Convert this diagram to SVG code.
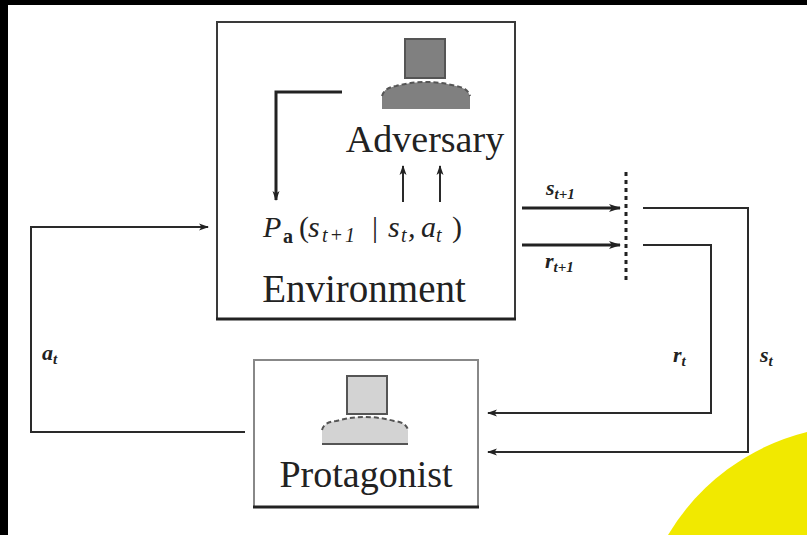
<svg xmlns="http://www.w3.org/2000/svg" width="807" height="535" viewBox="0 0 807 535">
  <defs>
    <marker id="arrow" viewBox="0 0 10 10" refX="9" refY="5" markerWidth="10" markerHeight="10" markerUnits="userSpaceOnUse" orient="auto">
      <path d="M0 1.5 L10 5 L0 8.5 L2.5 5 Z" fill="#222"/>
    </marker>
    <marker id="arrowBig" viewBox="0 0 12 10" refX="11" refY="5" markerWidth="12" markerHeight="10" markerUnits="userSpaceOnUse" orient="auto">
      <path d="M0 1 L12 5 L0 9 L3 5 Z" fill="#222"/>
    </marker>
  </defs>
  <style>
    .frame { fill: #fff; stroke: #3a3a3a; stroke-width: 2; }
    .line { fill: none; stroke: #2a2a2a; stroke-width: 2; }
    .thick { fill: none; stroke: #222; stroke-width: 3; }
  </style>

  <!-- page background with dark edges -->
  <rect x="0" y="0" width="807" height="535" fill="#fff"/>
  <rect x="0" y="0" width="807" height="5" fill="#000"/>
  <rect x="0" y="0" width="8" height="535" fill="#000"/>
  <path d="M668 535 A 225 225 0 0 1 807 432 L807 535 Z" fill="#f1e900"/>

  <!-- Environment -->
  <g id="environment">
    <rect class="frame" x="217" y="22" width="298" height="297"/>
    <line x1="216" y1="319" x2="516" y2="319" stroke="#222" stroke-width="3"/>
    <text style="font-family: 'Liberation Serif', serif; fill: #222" x="364" y="302" font-size="39" text-anchor="middle">Environment</text>
    <text style="font-family: 'Liberation Serif', serif; font-style: italic; fill: #222" y="237" font-size="30"><tspan x="263">P</tspan><tspan x="283" dy="6" style="font-style: normal; font-weight: bold" font-size="20">a</tspan><tspan x="299" dy="-6" style="font-style: normal">(</tspan><tspan x="308">s</tspan><tspan x="322" dy="5" font-size="20" letter-spacing="2">t+1</tspan><tspan x="372" dy="-5" style="font-style: normal">|</tspan><tspan x="388">s</tspan><tspan x="401" dy="5" font-size="20">t</tspan><tspan x="408" dy="-5">,</tspan><tspan x="421">a</tspan><tspan x="436" dy="5" font-size="20">t</tspan><tspan x="452" dy="-5" style="font-style: normal">)</tspan></text>
  </g>

  <!-- Adversary -->
  <g id="adversary">
    <rect x="405" y="39" width="40" height="39" fill="#808080" stroke="#555" stroke-width="2"/>
    <path d="M382 109 L382 96 Q384 88 396 86 Q426 78 456 86 Q468 88 470 96 L470 109 Z" fill="#808080"/>
    <path d="M382 96 Q384 88 396 86 Q426 78 456 86 Q468 88 470 96" fill="none" stroke="#555" stroke-width="2" stroke-dasharray="5 3"/>
    <text style="font-family: 'Liberation Serif', serif; fill: #222" x="425" y="152" font-size="38" text-anchor="middle">Adversary</text>
  </g>

  <!-- Protagonist -->
  <g id="protagonist">
    <rect x="254" y="360" width="224" height="147" fill="#fff" stroke="#888" stroke-width="2"/>
    <line x1="253" y1="507" x2="479" y2="507" stroke="#222" stroke-width="3"/>
    <rect x="347" y="376" width="40" height="38" fill="#d3d3d3" stroke="#555" stroke-width="2"/>
    <path d="M322 444 L322 430 Q324 422 336 421 Q365 413 394 421 Q406 422 408 430 L408 444 Z" fill="#d3d3d3"/>
    <path d="M322 430 Q324 422 336 421 Q365 413 394 421 Q406 422 408 430" fill="none" stroke="#555" stroke-width="2" stroke-dasharray="5 3"/>
    <line x1="322" y1="444" x2="408" y2="444" stroke="#555" stroke-width="2"/>
    <text style="font-family: 'Liberation Serif', serif; fill: #222" x="366" y="487" font-size="38" text-anchor="middle">Protagonist</text>
  </g>

  <!-- connectors -->
  <g id="connectors">
    <!-- adversary sets the transition -->
    <path class="thick" d="M342 92 L276 92 L276 200" marker-end="url(#arrow)"/>
    <line class="line" x1="403" y1="202" x2="403" y2="166" stroke-width="1.5" marker-end="url(#arrow)"/>
    <line class="line" x1="440" y1="202" x2="440" y2="166" stroke-width="1.5" marker-end="url(#arrow)"/>

    <!-- environment outputs -->
    <line class="thick" x1="522" y1="208" x2="620" y2="208" marker-end="url(#arrowBig)"/>
    <line class="thick" x1="522" y1="245" x2="620" y2="245" marker-end="url(#arrowBig)"/>
    <line x1="626" y1="172" x2="626" y2="284" stroke="#222" stroke-width="3" stroke-dasharray="4 4"/>

    <!-- state and reward back to the protagonist -->
    <path class="line" d="M643 208 L748 208 L748 452 L488 452" marker-end="url(#arrow)"/>
    <path class="line" d="M643 245 L711 245 L711 413 L488 413" marker-end="url(#arrow)"/>

    <!-- action to the environment -->
    <path class="line" d="M245 432 L31 432 L31 227 L208 227" marker-end="url(#arrow)"/>

    <!-- labels -->
    <text style="font-family: 'Liberation Serif', serif; font-style: italic; font-weight: bold; fill: #222" x="546" y="195" font-size="22">s<tspan font-size="15" dy="4">t+1</tspan></text>
    <text style="font-family: 'Liberation Serif', serif; font-style: italic; font-weight: bold; fill: #222" x="545" y="268" font-size="22">r<tspan font-size="15" dy="4">t+1</tspan></text>
    <text style="font-family: 'Liberation Serif', serif; font-style: italic; font-weight: bold; fill: #222" x="673" y="362" font-size="22">r<tspan font-size="15" dy="4">t</tspan></text>
    <text style="font-family: 'Liberation Serif', serif; font-style: italic; font-weight: bold; fill: #222" x="760" y="362" font-size="22">s<tspan font-size="15" dy="4">t</tspan></text>
    <text style="font-family: 'Liberation Serif', serif; font-style: italic; font-weight: bold; fill: #222" x="42" y="360" font-size="22">a<tspan font-size="15" dy="4">t</tspan></text>
  </g>
</svg>
